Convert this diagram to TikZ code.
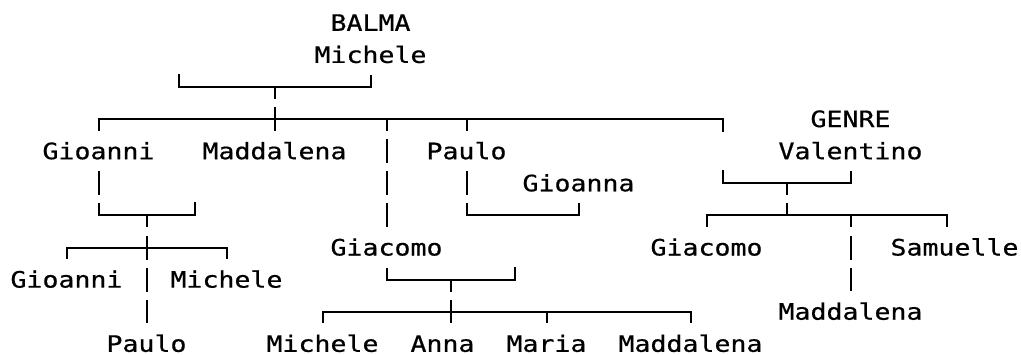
\documentclass[tikz,border=0pt]{standalone}
\usepackage{fontspec}
\newfontfamily\monoface[FakeStretch=1.176,FakeBold=0.6]{DejaVu Sans Mono}
\newcommand\namefont{\monoface\fontsize{22.6pt}{32pt}\selectfont}
\tikzset{
  nm/.style={font=\namefont, text=black, inner sep=0pt, outer xsep=0pt, outer ysep=12pt,
    text height=16.5pt, text depth=0pt, anchor=base, yshift=-8pt},
  nmlast/.style={nm, outer ysep=0pt},
  link/.style={draw=black, line width=2pt, line join=miter, line cap=butt},
  vlink/.style={link, dash pattern=on 24pt off 8.1pt},
  fromrow/.style={dash phase=12pt},
  fromname/.style={dash phase=0pt}
}
\begin{document}
\begin{tikzpicture}[x=16pt, y=-32.1pt]
\useasboundingbox[fill=white] (-18.5pt,22.8pt) rectangle (1002.5pt,-331.2pt);
% names: x = start column + (length-1)/2, y = row
\node[nm] (bsur)  at (22,0)   {BALMA};
\node[nm] (bmic)  at (22,1)   {Michele};
\node[nm] (gsur)  at (52,3)   {GENRE};
\node[nm] (gio)   at (5,4)    {Gioanni};
\node[nm] (mad)   at (16,4)   {Maddalena};
\node[nm] (pau)   at (28,4)   {Paulo};
\node[nm] (val)   at (52,4)   {Valentino};
\node[nm] (gna)   at (35,5)   {Gioanna};
\node[nm] (giac)  at (23,7)   {Giacomo};
\node[nm] (giacb) at (43,7)   {Giacomo};
\node[nm] (sam)   at (58.5,7) {Samuelle};
\node[nm] (giob)  at (3,8)    {Gioanni};
\node[nm] (micb)  at (13,8)   {Michele};
\node[nm] (madc)  at (52,9)   {Maddalena};
\node[nmlast] (paub)  at (8,10)   {Paulo};
\node[nmlast] (micc)  at (19,10)  {Michele};
\node[nmlast] (anna)  at (26.5,10){Anna};
\node[nmlast] (maria) at (33,10)  {Maria};
\node[nmlast] (madb)  at (42,10)  {Maddalena};
% junctions
\coordinate (b2L) at (10,2); \coordinate (b2M) at (16,2); \coordinate (b2R) at (22,2);
\coordinate (s3a) at (5,3);  \coordinate (s3b) at (16,3); \coordinate (s3c) at (23,3);
\coordinate (s3d) at (28,3); \coordinate (s3e) at (44,3);
\coordinate (v5L) at (44,5); \coordinate (v5M) at (48,5); \coordinate (v5R) at (52,5);
\coordinate (g6L) at (5,6);  \coordinate (g6M) at (8,6);  \coordinate (g6R) at (11,6);
\coordinate (p6L) at (28,6); \coordinate (p6R) at (35,6);
\coordinate (v6a) at (43,6); \coordinate (v6b) at (48,6); \coordinate (v6c) at (52,6); \coordinate (v6d) at (58,6);
\coordinate (g7a) at (3,7);  \coordinate (g7b) at (8,7);  \coordinate (g7c) at (13,7);
\coordinate (c8L) at (23,8); \coordinate (c8M) at (27,8); \coordinate (c8R) at (31,8);
\coordinate (c9a) at (19,9); \coordinate (c9b) at (27,9); \coordinate (c9c) at (33,9); \coordinate (c9d) at (42,9);
% Balma Michele and spouse
\draw[link] ([yshift=13pt]b2L) -- (b2L) -- (b2R) -- (bmic.south);
\draw[vlink,fromrow] (b2M) -- (s3b);
% their children
\draw[link] (gio.north) -- (s3a) -- (s3e) -- ([yshift=-12.5pt]s3e);
\draw[link] (s3b) -- (mad.north);
\draw[vlink,fromrow] (s3c) -- (giac.north);
\draw[link] (s3d) -- (pau.north);
% Gioanni and spouse
\draw[vlink,fromname] (gio.south) -- (g6L);
\draw[link] ([yshift=12pt]g6L) -- (g6L) -- (g6R) -- ([yshift=13pt]g6R);
\draw[vlink,fromrow] (g6M) -- (g7b);
\draw[link] (giob.north) -- (g7a) -- (g7c) -- (micb.north);
\draw[vlink,fromrow] (g7b) -- ([yshift=12pt]paub.north);
% Paulo and Gioanna
\draw[vlink,fromname] (pau.south) -- (p6L);
\draw[link] ([yshift=12pt]p6L) -- (p6L) -- (p6R) -- (gna.south);
% Giacomo and spouse
\draw[link] (giac.south) -- (c8L) -- (c8R) -- ([yshift=13pt]c8R);
\draw[vlink,fromrow] (c8M) -- (c9b);
\draw[link] ([yshift=12pt]micc.north) -- (c9a) -- (c9d) -- ([yshift=12pt]madb.north);
\draw[link] (c9b) -- ([yshift=12pt]c9b |- anna.north);
\draw[link] (c9c) -- ([yshift=12pt]maria.north);
% GENRE Valentino and spouse
\draw[link] ([yshift=13pt]v5L) -- (v5L) -- (v5R) -- (val.south);
\draw[vlink,fromrow] (v5M) -- (v6b);
\draw[link] (giacb.north) -- (v6a) -- (v6d) -- (v6d |- sam.north);
\draw[vlink,fromrow] (v6c) -- (madc.north);
\end{tikzpicture}
\end{document}
